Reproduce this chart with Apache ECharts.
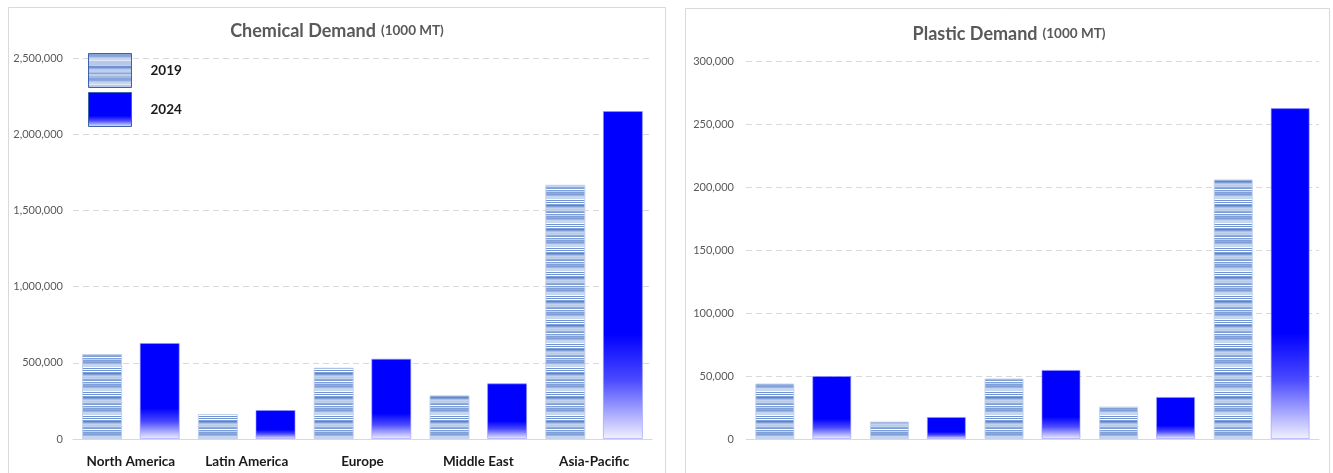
<!DOCTYPE html>
<html>
<head>
<meta charset="utf-8">
<script src="https://cdn.jsdelivr.net/npm/echarts@6/dist/echarts.min.js"></script>
<style>
html,body{margin:0;padding:0;background:#fff;}
#main{width:1333px;height:473px;}
</style>
</head>
<body>
<div id="main"></div>
<script>
var categories = ['North America', 'Latin America', 'Europe', 'Middle East', 'Asia-Pacific'];
var chem2019 = [558000, 164000, 468000, 287000, 1668000];
var chem2024 = [630000, 190000, 527000, 365000, 2152000];
var plastic2019 = [44000, 13800, 48000, 25700, 206000];
var plastic2024 = [50000, 17500, 54800, 33400, 262600];
var chemTicks = {min: 0, max: 2500000, interval: 500000};
var plasticTicks = {min: 0, max: 300000, interval: 50000};

// stripe pattern for 2019 bars
var stripeRows = ['#7f9fd8','#8aa8dc','#7f9fd8','#9bb4e2','#c5d4ee','#c9d6ef','#c5d4ee','#ffffff',
  '#6f92d2','#ffffff','#6f92d2','#ffffff','#7f9fd8','#5d84cc','#7f9fd8','#aabfe6',
  '#c5d4ee','#b8cbea','#c5d4ee','#8eabdd','#7f9fd8','#ffffff','#7f9fd8','#c5d4ee'];
var cv = document.createElement('canvas');
cv.width = 8; cv.height = stripeRows.length;
var cx = cv.getContext('2d');
stripeRows.forEach(function (c, i) { cx.fillStyle = c; cx.fillRect(0, i, 8, 1); });
var stripe = {image: cv, repeat: 'repeat'};

var grad = new echarts.graphic.LinearGradient(0, 0, 0, 1, [
  {offset: 0, color: '#0000ff'},
  {offset: 0.68, color: '#0000ff'},
  {offset: 0.82, color: '#4a4aff'},
  {offset: 1, color: '#f2f2ff'}
]);

var fmt = function (v) { return v.toLocaleString('en-US'); };
var font = 'Lato, "Noto Sans", sans-serif';

function yAxis(idx, t) {
  return {
    type: 'value', gridIndex: idx, min: t.min, max: t.max, interval: t.interval,
    axisLine: {show: false}, axisTick: {show: false},
    axisLabel: {formatter: fmt, color: '#595959', fontSize: 11, fontFamily: font, margin: idx === 0 ? 10 : 12},
    splitLine: {lineStyle: {color: '#d9d9d9', type: [6, 4], width: 1}}
  };
}
function xAxis(idx, showLabels) {
  return {
    type: 'category', gridIndex: idx, data: categories,
    axisLine: {lineStyle: {color: '#d9d9d9', width: 1}}, axisTick: {show: false},
    axisLabel: {show: showLabels, color: '#1a1a1a', fontWeight: 'bold', fontSize: 13.5, fontFamily: font, margin: 16}
  };
}
var title = function (x, y, main) {
  return {
    text: '{a|' + main + '} {b|(1000 MT)}', left: x, top: y, textAlign: 'center', padding: 0,
    textStyle: {rich: {
      a: {fontSize: 18, fontWeight: 'bold', color: '#595959', fontFamily: font},
      b: {fontSize: 13.5, fontWeight: 'bold', color: '#595959', fontFamily: font}
    }}
  };
};

var chart = echarts.init(document.getElementById('main'), null, {renderer: 'canvas'});
chart.setOption({
  backgroundColor: '#ffffff',
  animation: false,
  title: [title(337, 22, 'Chemical Demand'), title(1009, 25, 'Plastic Demand')],
  graphic: [
    {type: 'rect', shape: {x: 8.5, y: 7.5, width: 657, height: 480}, style: {fill: 'none', stroke: '#d9d9d9', lineWidth: 1}, silent: true, z: -1},
    {type: 'rect', shape: {x: 685.5, y: 8.5, width: 644, height: 480}, style: {fill: 'none', stroke: '#d9d9d9', lineWidth: 1}, silent: true, z: -1}
  ],
  legend: {
    data: ['2019', '2024'], orient: 'vertical', left: 88, top: 53, padding: 0,
    icon: 'rect', itemWidth: 43, itemHeight: 34, itemGap: 4,
    itemStyle: {borderColor: '#3d63ad', borderWidth: 1},
    textStyle: {color: '#1a1a1a', fontWeight: 'bold', fontSize: 13.5, fontFamily: font, padding: [0, 0, 0, 14]}
  },
  grid: [
    {left: 73, right: 681, top: 58, bottom: 34, containLabel: false},
    {left: 746, right: 14, top: 61, bottom: 34, containLabel: false}
  ],
  xAxis: [xAxis(0, true), xAxis(1, false)],
  yAxis: [yAxis(0, chemTicks), yAxis(1, plasticTicks)],
  series: [
    {name: '2019', type: 'bar', xAxisIndex: 0, yAxisIndex: 0, data: chem2019, barWidth: 40, barGap: '44%',
      itemStyle: {color: stripe, borderColor: 'rgba(190,206,235,0.9)', borderWidth: 1}},
    {name: '2024', type: 'bar', xAxisIndex: 0, yAxisIndex: 0, data: chem2024, barWidth: 40, barGap: '44%',
      itemStyle: {color: grad, borderColor: 'rgba(150,150,255,0.6)', borderWidth: 1}},
    {name: '2019', type: 'bar', xAxisIndex: 1, yAxisIndex: 1, data: plastic2019, barWidth: 39, barGap: '46%',
      itemStyle: {color: stripe, borderColor: 'rgba(190,206,235,0.9)', borderWidth: 1}},
    {name: '2024', type: 'bar', xAxisIndex: 1, yAxisIndex: 1, data: plastic2024, barWidth: 39, barGap: '46%',
      itemStyle: {color: grad, borderColor: 'rgba(150,150,255,0.6)', borderWidth: 1}}
  ]
});
</script>
</body>
</html>
